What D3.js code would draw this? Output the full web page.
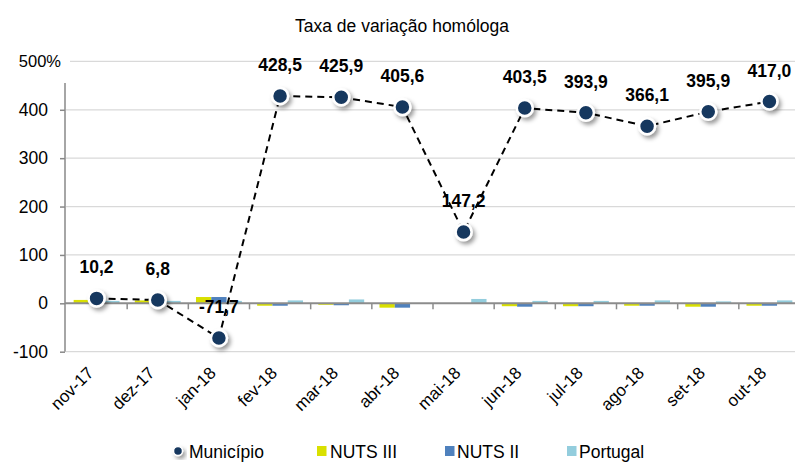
<!DOCTYPE html>
<html><head><meta charset="utf-8">
<script src="https://cdn.jsdelivr.net/npm/d3@7"></script>
<style>body{margin:0;background:#fff}svg{display:block;font-family:"Liberation Sans",Arial,sans-serif}</style>
</head><body><svg id="c" width="795" height="462"></svg>
<script>
const categories = ["nov-17","dez-17","jan-18","fev-18","mar-18","abr-18","mai-18","jun-18","jul-18","ago-18","set-18","out-18"];
const municipio = [10.2, 6.8, -71.7, 428.5, 425.9, 405.6, 147.2, 403.5, 393.9, 366.1, 395.9, 417.0];
const nutsIII = [7, 6, 13, -5, -3, -9, 0, -6, -6, -5, -7, -5];
const nutsII = [5, 4, 13, -5, -4, -9, 0, -7, -6, -5, -7, -5];
const portugal = [5, 5, 5, 6, 8, 0, 9, 5, 5, 6, 4, 6];
const yTicks = [-100, 0, 100, 200, 300, 400, 500];
const seriesNames = ["Município","NUTS III","NUTS II","Portugal"];
const colors = {"NUTS III":"#D9E000","NUTS II":"#4F81BD","Portugal":"#93CDDD"};
const fmt = v => v.toFixed(1).replace(".", ",");

const svg = d3.select("#c");
const defs = svg.append("defs");
const f = defs.append("filter").attr("id","sh").attr("x","-50%").attr("y","-50%").attr("width","200%").attr("height","200%");
f.append("feDropShadow").attr("dx",2.5).attr("dy",3).attr("stdDeviation",2).attr("flood-color","#000").attr("flood-opacity",0.4);

const x = d3.scaleBand().domain(categories).range([66, 800]);
const y = d3.scaleLinear().domain([-100, 500]).range([351.7, 61.4]);

svg.append("text").attr("x",402).attr("y",32).attr("text-anchor","middle").attr("font-size",17.5).attr("fill","#000").text("Taxa de variação homóloga");

// gridlines
svg.append("g").selectAll("line").data(yTicks.filter(t=>t!==0)).join("line")
  .attr("x1", d => d===500 ? 70 : 66).attr("x2", 795)
  .attr("y1", d=>y(d)).attr("y2", d=>y(d))
  .attr("stroke","#D9D9D9").attr("stroke-width",1.2);

// y axis
const yAxis = d3.axisLeft(y).tickValues(yTicks.filter(t=>t!==500)).tickSize(5).tickFormat(d=>d);
const ya = svg.append("g").attr("transform","translate(65,0)").call(yAxis);
ya.select(".domain").remove();
ya.append("line").attr("x1",0).attr("x2",0).attr("y1",83).attr("y2",y(-100)).attr("stroke","#888").attr("stroke-width",1.5);
ya.selectAll(".tick line").attr("stroke","#888").attr("stroke-width",1.5);
ya.selectAll(".tick text").attr("x",-17).attr("font-size",17.5).attr("fill","#000").attr("font-family","Liberation Sans, Arial, sans-serif");
svg.append("text").attr("x",61).attr("y",y(500)).attr("dy","0.32em").attr("text-anchor","end").attr("font-size",16.5).text(yTicks[6] + "%");

// bars
const inner = d3.scaleBand().domain(["NUTS III","NUTS II","Portugal"]).range([0, x.bandwidth()]).paddingInner(0).paddingOuter(0.5);
const barData = [];
categories.forEach((c,i)=>{
  barData.push({c, s:"NUTS III", v:nutsIII[i]});
  barData.push({c, s:"NUTS II", v:nutsII[i]});
  barData.push({c, s:"Portugal", v:portugal[i]});
});
svg.append("g").selectAll("rect").data(barData).join("rect")
  .attr("x", d=>x(d.c)+inner(d.s)).attr("width", inner.bandwidth())
  .attr("y", d=>Math.min(y(d.v), y(0))).attr("height", d=>Math.abs(y(d.v)-y(0)))
  .attr("fill", d=>colors[d.s]);

// x axis at zero
const xAxis = d3.axisBottom(x).tickSize(0).tickFormat("");
const xa = svg.append("g").attr("transform",`translate(0,${y(0)})`).call(xAxis);
xa.select(".domain").attr("stroke","#8C8C8C").attr("stroke-width",2).attr("d","M65,0H795");
xa.selectAll(".tick").remove();
xa.selectAll(".bt").data(categories.slice(1)).join("line").attr("class","bt")
  .attr("x1", d=>x(d)).attr("x2", d=>x(d)).attr("y1",0).attr("y2",6)
  .attr("stroke","#8C8C8C").attr("stroke-width",1.5);

// x labels
svg.append("g").selectAll("text").data(categories).join("text")
  .attr("transform", d=>`translate(${x(d)+x.bandwidth()/2-2},${374}) rotate(-45)`)
  .attr("text-anchor","end").attr("font-size",17).attr("fill","#000").text(d=>d);

// line
const pts = categories.map((c,i)=>({c, v:municipio[i]}));
const line = d3.line().x(d=>x(d.c)+x.bandwidth()/2).y(d=>y(d.v));
svg.append("path").datum(pts).attr("d", line).attr("fill","none").attr("stroke","#000").attr("stroke-width",2).attr("stroke-dasharray","7,5");

svg.append("g").selectAll("circle").data(pts).join("circle")
  .attr("cx", d=>x(d.c)+x.bandwidth()/2).attr("cy", d=>y(d.v)).attr("r",8)
  .attr("fill","#17375E").attr("stroke","#fff").attr("stroke-width",2.5).attr("filter","url(#sh)");

svg.append("g").selectAll("text").data(pts).join("text")
  .attr("x", d=>x(d.c)+x.bandwidth()/2).attr("y", d=>y(d.v)-25)
  .attr("text-anchor","middle").attr("font-size",17.5).attr("font-weight","bold").attr("fill","#000")
  .text(d=>fmt(d.v));

// legend
const lg = svg.append("g");
lg.append("circle").attr("cx",178).attr("cy",451).attr("r",4.5).attr("fill","#17375E").attr("stroke","#fff").attr("stroke-width",1.5).attr("filter","url(#sh)");
lg.append("text").attr("x",189).attr("y",457.5).attr("font-size",17.5).text(seriesNames[0]);
const sq = [{s:"NUTS III",x:317,tx:330},{s:"NUTS II",x:445,tx:457},{s:"Portugal",x:567,tx:579}];
sq.forEach(d=>{
  lg.append("rect").attr("x",d.x).attr("y",446).attr("width",9.5).attr("height",10).attr("fill",colors[d.s]);
  lg.append("text").attr("x",d.tx).attr("y",457.5).attr("font-size",17.5).text(d.s);
});
</script></body></html>
